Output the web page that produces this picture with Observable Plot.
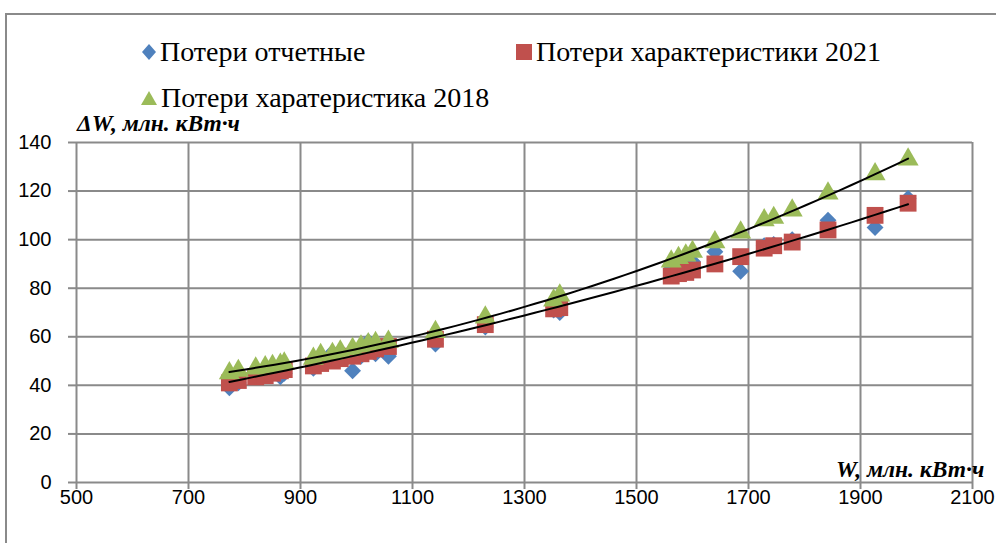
<!DOCTYPE html>
<html>
<head>
<meta charset="utf-8">
<script src="https://cdn.jsdelivr.net/npm/d3@7"></script>
<script src="https://cdn.jsdelivr.net/npm/@observablehq/plot@0.6"></script>
<style>
  html, body { margin: 0; padding: 0; background: #fff; width: 996px; height: 543px; overflow: hidden; }
  #wrap { position: relative; width: 996px; height: 543px; }
  #frame { position: absolute; left: 5px; top: 13px; width: 1100px; height: 700px; border: 2px solid #8a8a8a; box-sizing: border-box; }
  #chart { position: absolute; left: 0; top: 0; }
  .leg { position: absolute; font-family: "Liberation Serif", "Times New Roman", serif; font-size: 28px; color: #000; white-space: nowrap; line-height: 1; }
  .leg svg { vertical-align: middle; margin-right: 4px; }
  .alabel { position: absolute; font-family: "Liberation Serif", "Times New Roman", serif; font-weight: bold; font-style: italic; font-size: 23.5px; color: #000; white-space: nowrap; line-height: 1; }
</style>
</head>
<body>
<div id="wrap">
  <div id="frame"></div>
  <div id="chart"></div>
</div>
<script>
// Energy W, mln kWh
const W = [773, 789, 820, 837, 850, 864, 871, 923, 936, 957, 971, 993, 1008, 1021, 1034, 1057, 1141, 1230, 1352, 1363, 1562, 1575, 1588, 1600, 1640, 1686, 1728, 1745, 1778, 1842, 1926, 1985];
// Losses, reported
const lossReported = [39, 41, 44, 45, 46, 43.5, 45, 47, 52, 53.5, 54, 46, 52, 58, 53, 52, 57, 64, 71, 70, 88, 89, 90, 91, 95, 87, 97.5, 98, 100, 108, 105, 117];
// Losses, characteristic 2021
const loss2021 = [41, 42, 43.5, 44, 45, 46, 46.5, 48, 49, 50, 51, 52, 53, 54, 55, 56, 59, 65, 71.5, 72, 85, 86, 86.5, 87.5, 90, 93, 96.5, 97.5, 99, 104, 110, 115];
// Losses, characteristic 2018
const loss2018 = [45, 46, 47, 47.5, 48, 48.5, 49, 51, 52.5, 53, 54, 55, 56, 57, 57.5, 58, 62, 68, 75, 77, 91, 92.5, 93.5, 95, 99, 103, 108, 109, 112, 119, 127, 133];

const xTicks = [500, 700, 900, 1100, 1300, 1500, 1700, 1900, 2100];
const yTicks = [0, 20, 40, 60, 80, 100, 120, 140];

const seriesNames = ["Потери отчетные", "Потери характеристики 2021", "Потери харатеристика 2018"];
const colors = ["#4f81bd", "#c0504d", "#9bbb59"];
const xLabel = "W, млн. кВт·ч";
const yLabel = "ΔW, млн. кВт·ч";

const toRows = (vals) => W.map((w, i) => ({w, v: vals[i]}));
const reported = toRows(lossReported);
const r2021 = toRows(loss2021);
const r2018 = toRows(loss2018);

// quadratic least-squares trend line computed from a series
function quadFit(xs, ys) {
  let s = Array(5).fill(0), t = Array(3).fill(0);
  const x0 = d3.mean(xs);
  xs.forEach((x, i) => {
    const u = x - x0;
    for (let k = 0; k < 5; k++) s[k] += Math.pow(u, k);
    for (let k = 0; k < 3; k++) t[k] += ys[i] * Math.pow(u, k);
  });
  const M = [[s[0], s[1], s[2]], [s[1], s[2], s[3]], [s[2], s[3], s[4]]];
  const b = t.slice();
  for (let i = 0; i < 3; i++) {
    for (let j = i + 1; j < 3; j++) {
      const f = M[j][i] / M[i][i];
      for (let k = i; k < 3; k++) M[j][k] -= f * M[i][k];
      b[j] -= f * b[i];
    }
  }
  const c = [0, 0, 0];
  for (let i = 2; i >= 0; i--) {
    let sum = b[i];
    for (let k = i + 1; k < 3; k++) sum -= M[i][k] * c[k];
    c[i] = sum / M[i][i];
  }
  const lo = d3.min(xs), hi = d3.max(xs);
  return d3.range(0, 61).map(i => {
    const x = lo + (hi - lo) * i / 60;
    const u = x - x0;
    return {w: x, v: c[0] + c[1] * u + c[2] * u * u};
  });
}
const trend2018 = quadFit(W, loss2018);
const trend2021 = quadFit(W, loss2021);

const gridColor = "#8a8a8a";

const plot = Plot.plot({
  width: 996,
  height: 543,
  marginLeft: 76,
  marginRight: 24,
  marginTop: 142,
  marginBottom: 61,
  style: {fontFamily: "'Liberation Sans', Arial, sans-serif", fontSize: "20px", color: "#000", background: "transparent"},
  x: {domain: [500, 2100], ticks: xTicks},
  y: {domain: [0, 140], ticks: yTicks},
  marks: [
    Plot.gridX(xTicks, {stroke: gridColor, strokeOpacity: 1, strokeWidth: 2}),
    Plot.gridY(yTicks, {stroke: gridColor, strokeOpacity: 1, strokeWidth: 2}),
    Plot.axisX(xTicks, {tickSize: 7, tickPadding: 0, stroke: gridColor, strokeWidth: 2, label: null, fill: "#000", fontSize: 20, tickFormat: d => String(d)}),
    Plot.axisY(yTicks, {tickSize: 8, tickPadding: 17, stroke: gridColor, strokeWidth: 2, label: null, fill: "#000", fontSize: 20, tickFormat: d => String(d)}),
    Plot.dot(reported, {x: "w", y: "v", symbol: "diamond2", r: 7.6, fill: colors[0], stroke: "none"}),
    Plot.dot(r2021, {x: "w", y: "v", symbol: "square", r: 9.5, fill: colors[1], stroke: "none"}),
    Plot.dot(r2018, {x: "w", y: "v", symbol: "triangle", r: 7.8, fill: colors[2], stroke: "none"}),
    Plot.line(trend2018, {x: "w", y: "v", stroke: "#000", strokeWidth: 2}),
    Plot.line(trend2021, {x: "w", y: "v", stroke: "#000", strokeWidth: 2})
  ]
});
document.getElementById("chart").appendChild(plot);

// legend and axis titles
const wrap = document.getElementById("wrap");
const symSvg = {
  diamond: (c) => `<svg width="14" height="16" viewBox="0 0 14 16"><polygon points="7,0 14,8 7,16 0,8" fill="${c}"/></svg>`,
  square: (c) => `<svg width="16" height="16" viewBox="0 0 16 16"><rect x="0" y="0" width="16" height="16" fill="${c}"/></svg>`,
  triangle: (c) => `<svg width="16" height="16" viewBox="0 0 16 16"><polygon points="8,1 16,15 0,15" fill="${c}"/></svg>`
};
const legendItems = [
  {name: seriesNames[0], sym: "diamond", color: colors[0], left: 142, top: 35},
  {name: seriesNames[1], sym: "square", color: colors[1], left: 516, top: 35},
  {name: seriesNames[2], sym: "triangle", color: colors[2], left: 141, top: 81}
];
legendItems.forEach(it => {
  const d = document.createElement("div");
  d.className = "leg";
  d.style.left = it.left + "px";
  d.style.top = it.top + "px";
  d.innerHTML = symSvg[it.sym](it.color) + `<span style="vertical-align:middle">${it.name}</span>`;
  wrap.appendChild(d);
});
const yl = document.createElement("div");
yl.className = "alabel";
yl.style.left = "77px"; yl.style.top = "112px";
yl.textContent = yLabel;
wrap.appendChild(yl);
const xl = document.createElement("div");
xl.className = "alabel";
xl.style.left = "836px"; xl.style.top = "458px";
xl.textContent = xLabel;
wrap.appendChild(xl);
</script>
</body>
</html>
